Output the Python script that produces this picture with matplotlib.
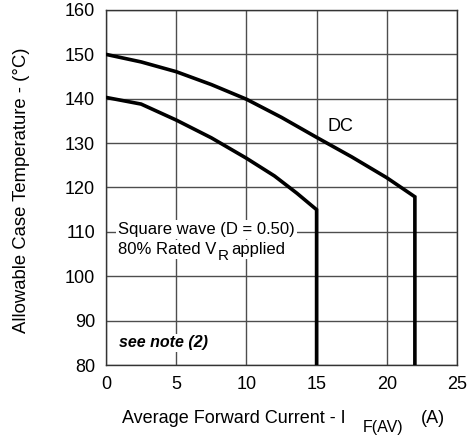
import matplotlib
matplotlib.use("Agg")
import matplotlib.pyplot as plt

plt.rcParams['font.family'] = ['Liberation Sans', 'DejaVu Sans']

# DC curve
dc_x = [0, 2.5, 5, 7.5, 10, 12.5, 15, 17.5, 20, 22, 22]
dc_y = [150, 148.3, 146.1, 143.2, 139.9, 135.8, 131.3, 126.9, 122.2, 117.9, 80]
# Square wave curve
sq_x = [0, 2.5, 5, 7.5, 10, 12, 13.6, 15, 15]
sq_y = [140.3, 138.8, 135.2, 131.2, 126.6, 122.6, 118.7, 115, 80]

x_ticks = [0, 5, 10, 15, 20, 25]
y_ticks = [80, 90, 100, 110, 120, 130, 140, 150, 160]

W, H = 468, 437
fig = plt.figure(figsize=(W / 100, H / 100), dpi=100)
ax = fig.add_axes([106 / W, 1 - 365 / H, (457 - 106) / W, (365 - 10) / H])

ax.set_xlim(0, 25)
ax.set_ylim(80, 160)
ax.set_xticks(x_ticks)
ax.set_yticks(y_ticks)
ax.tick_params(length=0, labelsize=13)
ax.tick_params(axis='x', pad=8)
ax.tick_params(axis='y', pad=8)
ax.grid(True, color='#4d4d4d', lw=1.0)
ax.set_axisbelow(True)
for s in ax.spines.values():
    s.set_color('#333333')
    s.set_linewidth(1.0)

ax.plot(dc_x, dc_y, color='black', lw=2.6, solid_joinstyle='miter', zorder=3)
ax.plot(sq_x, sq_y, color='black', lw=2.6, solid_joinstyle='miter', zorder=3)

ax.text(15.8, 133.7, 'DC', fontsize=13, va='center', ha='left', zorder=4)

# annotation box
fig.canvas.draw()
r = fig.canvas.get_renderer()

def px(x, y):
    return (x / W, 1 - y / H)

box = dict(facecolor='white', edgecolor='none', pad=1.5)
t1 = fig.text(*px(118, 234), 'Square wave (D = 0.50)', fontsize=12, va='baseline',
              ha='left', bbox=box, zorder=5)
t2 = fig.text(*px(118, 254), '80% Rated V', fontsize=12, va='baseline', ha='left',
              bbox=box, zorder=5)
bb = t2.get_window_extent(r)
t3 = fig.text(bb.x1 / W + 1 / W, 1 - 260 / H, 'R', fontsize=11, va='baseline',
              ha='left', bbox=box, zorder=5)
bb3 = t3.get_window_extent(r)
fig.text(bb3.x1 / W + 3 / W, 1 - 254 / H, 'applied', fontsize=12, va='baseline',
         ha='left', bbox=box, zorder=5)

ax.text(0.92, 85.0, 'see note (2)', fontsize=11.5, fontweight='bold', style='italic',
        va='center', ha='left',
        bbox=dict(facecolor='white', edgecolor='none', pad=1), zorder=4)

# x label in pieces
fig.text(*px(122, 423), 'Average Forward Current - I', fontsize=13,
         va='baseline', ha='left')
fig.text(*px(363, 432), 'F(AV)', fontsize=11.5, va='baseline', ha='left')
fig.text(*px(421, 423), '(A)', fontsize=13, va='baseline', ha='left')

# y label
fig.text(*px(22, 190), 'Allowable Case Temperature - (°C)', fontsize=13.3,
         rotation=90, va='center', ha='center')

fig.savefig('out.png', dpi=100)
